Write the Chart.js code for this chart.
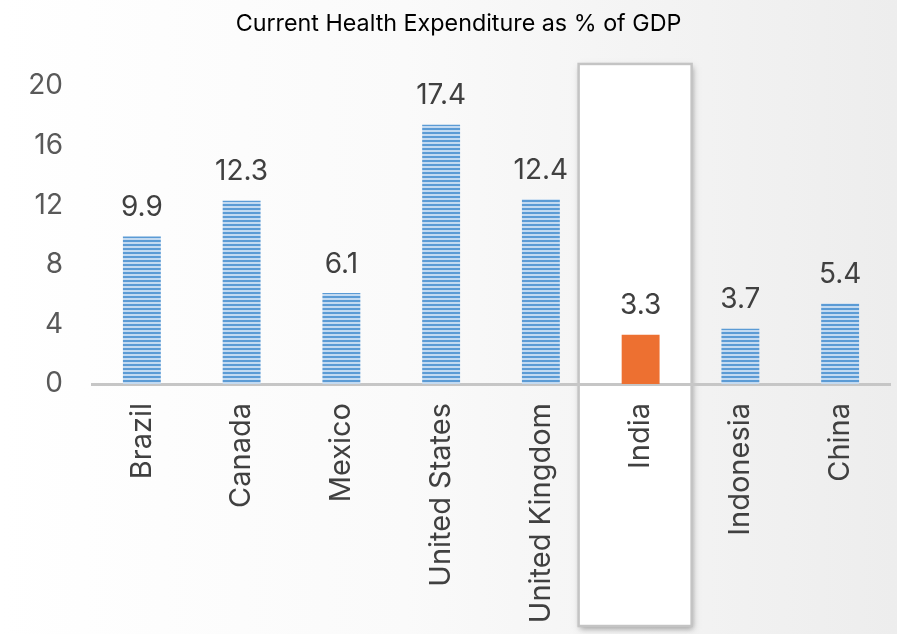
<!DOCTYPE html>
<html>
<head>
<meta charset="utf-8">
<script src="https://cdn.jsdelivr.net/npm/chart.js@4.4.1/dist/chart.umd.min.js"></script>
<style>
  html, body { margin: 0; padding: 0; background: #ffffff; }
  #wrap { width: 897px; height: 634px; position: relative; }
</style>
</head>
<body>
<div id="wrap"><canvas id="c" width="897" height="634"></canvas></div>
<script>
const chartTitle = "Current Health Expenditure as % of GDP";
const categories = ["Brazil", "Canada", "Mexico", "United States", "United Kingdom", "India", "Indonesia", "China"];
const values = [9.9, 12.3, 6.1, 17.4, 12.4, 3.3, 3.7, 5.4];
const highlightCategory = "India";
const yTicks = [0, 4, 8, 12, 16, 20];

const FONT = "Inter, 'Open Sans', sans-serif";

function makeStripePattern() {
  const p = document.createElement('canvas');
  p.width = 4; p.height = 4;
  const g = p.getContext('2d');
  g.fillStyle = '#c3daf1';
  g.fillRect(0, 0, 4, 4);
  g.fillStyle = '#5b9bd5';
  g.fillRect(0, 0, 4, 2);
  return g.createPattern(p, 'repeat');
}

const ctx = document.getElementById('c').getContext('2d');
const stripe = makeStripePattern();
const hiIndex = categories.indexOf(highlightCategory);
const colors = categories.map((c, i) => i === hiIndex ? '#ed7031' : stripe);

const bgPlugin = {
  id: 'bg',
  beforeDraw(chart) {
    const c = chart.ctx;
    const g = c.createLinearGradient(0, 0, chart.width, 0);
    g.addColorStop(0, '#ffffff');
    g.addColorStop(0.45, '#fafafa');
    g.addColorStop(1, '#ededed');
    c.save();
    c.fillStyle = g;
    c.fillRect(0, 0, chart.width, chart.height);
    // highlight box behind axes and bars
    const x = chart.scales.x;
    const cx = x.getPixelForValue(hiIndex);
    const left = cx - 62, right = cx + 51;
    const top = chart.chartArea.top - 22, bottom = chart.height - 8;
    c.shadowColor = 'rgba(0,0,0,0.35)';
    c.shadowBlur = 6;
    c.shadowOffsetX = 1;
    c.shadowOffsetY = 3;
    c.fillStyle = '#ffffff';
    c.fillRect(left, top, right - left, bottom - top);
    c.shadowColor = 'transparent';
    c.strokeStyle = '#c4c4c4';
    c.lineWidth = 2.5;
    c.strokeRect(left, top, right - left, bottom - top);
    c.restore();
  }
};

const valueLabelPlugin = {
  id: 'valueLabels',
  afterDatasetsDraw(chart) {
    const c = chart.ctx;
    const meta = chart.getDatasetMeta(0);
    c.save();
    c.font = '28px ' + FONT;
    c.fillStyle = '#404040';
    c.textAlign = 'center';
    c.textBaseline = 'middle';
    meta.data.forEach((bar, i) => {
      c.fillText(String(values[i]), bar.x, bar.y - 29);
    });
    c.restore();
  }
};

new Chart(ctx, {
  type: 'bar',
  data: {
    labels: categories,
    datasets: [{
      data: values,
      backgroundColor: colors,
      borderWidth: 0,
      categoryPercentage: 1,
      barPercentage: 0.38
    }]
  },
  options: {
    responsive: false,
    animation: false,
    devicePixelRatio: 1,
    layout: { padding: { left: 27, right: 7, top: 0, bottom: 0 } },
    plugins: {
      legend: { display: false },
      tooltip: { enabled: false },
      title: {
        display: true,
        text: chartTitle,
        color: '#000000',
        font: { family: FONT, size: 23.3, weight: 'normal' },
        padding: { top: 10, bottom: 48 }
      }
    },
    scales: {
      x: {
        grid: { display: false, drawTicks: false },
        border: { display: true, color: '#c6c6c6', width: 3 },
        ticks: {
          color: '#404040',
          font: { family: FONT, size: 29 },
          minRotation: 90,
          maxRotation: 90,
          padding: 19,
          autoSkip: false
        },
        afterFit(scale) { scale.height = 250; }
      },
      y: {
        min: 0,
        max: 20,
        afterBuildTicks(scale) { scale.ticks = yTicks.map(v => ({ value: v })); },
        grid: { display: false, drawTicks: false },
        border: { display: false },
        ticks: {
          color: '#595959',
          font: { family: FONT, size: 28 },
          padding: 29
        },
        afterFit(scale) { scale.width = 65; }
      }
    }
  },
  plugins: [bgPlugin, valueLabelPlugin]
});
</script>
</body>
</html>
